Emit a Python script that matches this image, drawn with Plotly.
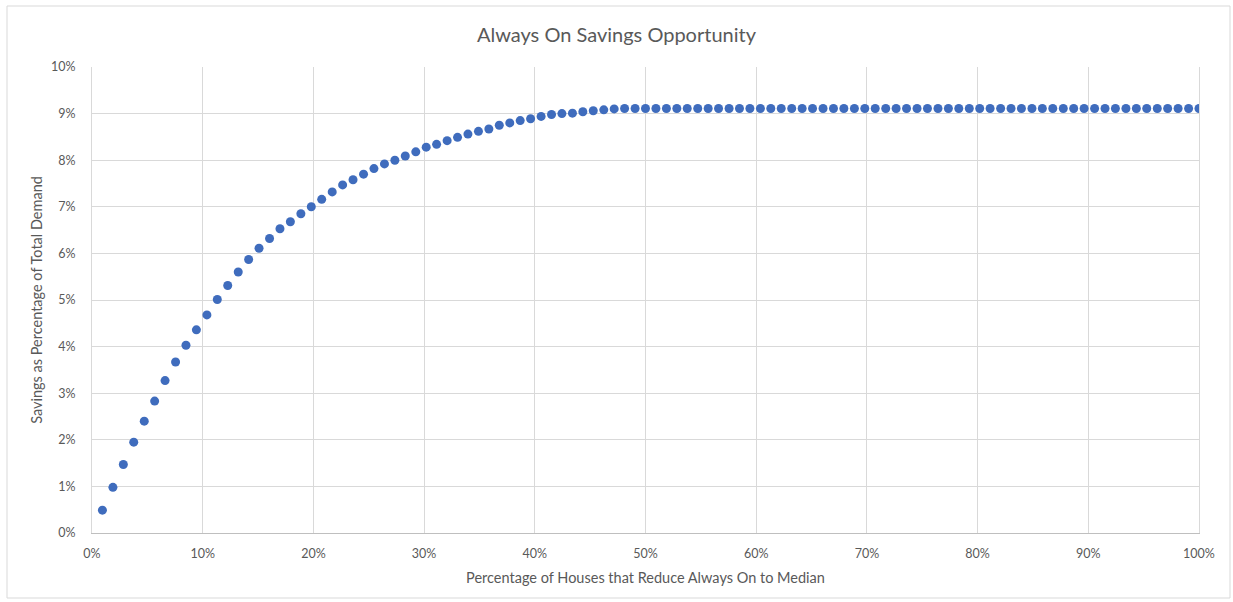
import plotly.graph_objects as go

# Share of houses (in %) that bring their always-on load down to the median
houses_pct = [
    0.94, 1.89, 2.83, 3.77, 4.72, 5.66, 6.60, 7.55, 8.49, 9.43,
    10.38, 11.32, 12.26, 13.21, 14.15, 15.09, 16.04, 16.98, 17.92, 18.87,
    19.81, 20.75, 21.70, 22.64, 23.58, 24.53, 25.47, 26.42, 27.36, 28.30,
    29.25, 30.19, 31.13, 32.08, 33.02, 33.96, 34.91, 35.85, 36.79, 37.74,
    38.68, 39.62, 40.57, 41.51, 42.45, 43.40, 44.34, 45.28, 46.23, 47.17,
    48.11, 49.06, 50.00, 50.94, 51.89, 52.83, 53.77, 54.72, 55.66, 56.60,
    57.55, 58.49, 59.43, 60.38, 61.32, 62.26, 63.21, 64.15, 65.09, 66.04,
    66.98, 67.92, 68.87, 69.81, 70.75, 71.70, 72.64, 73.58, 74.53, 75.47,
    76.42, 77.36, 78.30, 79.25, 80.19, 81.13, 82.08, 83.02, 83.96, 84.91,
    85.85, 86.79, 87.74, 88.68, 89.62, 90.57, 91.51, 92.45, 93.40, 94.34,
    95.28, 96.23, 97.17, 98.11, 99.06, 100.00,
]

# Resulting savings as a share (in %) of total demand
savings_pct = [
    0.49, 0.98, 1.47, 1.95, 2.40, 2.83, 3.27, 3.67, 4.03, 4.36,
    4.68, 5.01, 5.31, 5.60, 5.87, 6.11, 6.32, 6.53, 6.68, 6.85,
    7.00, 7.16, 7.32, 7.47, 7.58, 7.70, 7.82, 7.92, 8.00, 8.09,
    8.18, 8.28, 8.34, 8.42, 8.49, 8.56, 8.62, 8.67, 8.75, 8.80,
    8.85, 8.89, 8.94, 8.98, 9.00, 9.01, 9.04, 9.06, 9.08, 9.10,
    9.11, 9.11, 9.11, 9.11, 9.11, 9.11, 9.11, 9.11, 9.11, 9.11,
    9.11, 9.11, 9.11, 9.11, 9.11, 9.11, 9.11, 9.11, 9.11, 9.11,
    9.11, 9.11, 9.11, 9.11, 9.11, 9.11, 9.11, 9.11, 9.11, 9.11,
    9.11, 9.11, 9.11, 9.11, 9.11, 9.11, 9.11, 9.11, 9.11, 9.11,
    9.11, 9.11, 9.11, 9.11, 9.11, 9.11, 9.11, 9.11, 9.11, 9.11,
    9.11, 9.11, 9.11, 9.11, 9.11, 9.11,
]

x_ticks = [0, 10, 20, 30, 40, 50, 60, 70, 80, 90, 100]
y_ticks = [0, 1, 2, 3, 4, 5, 6, 7, 8, 9, 10]

W, H = 1233, 602
ML, MR, MT, MB = 92, 34, 67, 69
FONT = "Lato"
GREY = "#595959"

fig = go.Figure(
    go.Scatter(
        x=houses_pct,
        y=savings_pct,
        mode="markers",
        marker=dict(color="#3f6cbd", size=9, line=dict(width=0)),
        hoverinfo="x+y",
    )
)

# outer chart frame expressed in paper coordinates
pw, ph = W - ML - MR, H - MT - MB
fx0 = (7 - ML) / pw
fx1 = (1230 - ML) / pw
fy0 = -(MB - (H - 598)) / ph
fy1 = 1 + (MT - 6) / ph

fig.add_shape(
    type="rect", xref="paper", yref="paper",
    x0=fx0, x1=fx1, y0=fy0, y1=fy1,
    line=dict(color="#d9d9d9", width=1), layer="below",
)

fig.update_layout(
    width=W, height=H,
    margin=dict(l=ML, r=MR, t=MT, b=MB),
    paper_bgcolor="white", plot_bgcolor="white",
    font=dict(family=FONT, color=GREY, size=12),
    showlegend=False,
    title=dict(
        text="Always On Savings Opportunity",
        x=0.5, xanchor="center", y=1 - 35 / H, yanchor="middle",
        font=dict(family=FONT, size=20, color=GREY),
    ),
    xaxis=dict(
        range=[0, 100], tickvals=x_ticks, ticktext=[f"{v}%" for v in x_ticks],
        showgrid=True, gridcolor="#d9d9d9", gridwidth=1,
        showline=True, linecolor="#bfbfbf", linewidth=1,
        zeroline=False, ticks="", ticklabelstandoff=9,
        tickfont=dict(size=12.5, color=GREY),
        title=dict(text="Percentage of Houses that Reduce Always On to Median",
                   font=dict(size=14.5, color=GREY), standoff=12),
    ),
    yaxis=dict(
        range=[0, 10], tickvals=y_ticks, ticktext=[f"{v}%" for v in y_ticks],
        showgrid=True, gridcolor="#d9d9d9", gridwidth=1,
        showline=True, linecolor="#d9d9d9", linewidth=1, mirror=True,
        zeroline=False, ticks="", ticklabelstandoff=13,
        tickfont=dict(size=12.5, color=GREY),
        title=dict(text="Savings as Percentage of Total Demand",
                   font=dict(size=14.5, color=GREY), standoff=4),
    ),
)

fig.write_html("out.html")
